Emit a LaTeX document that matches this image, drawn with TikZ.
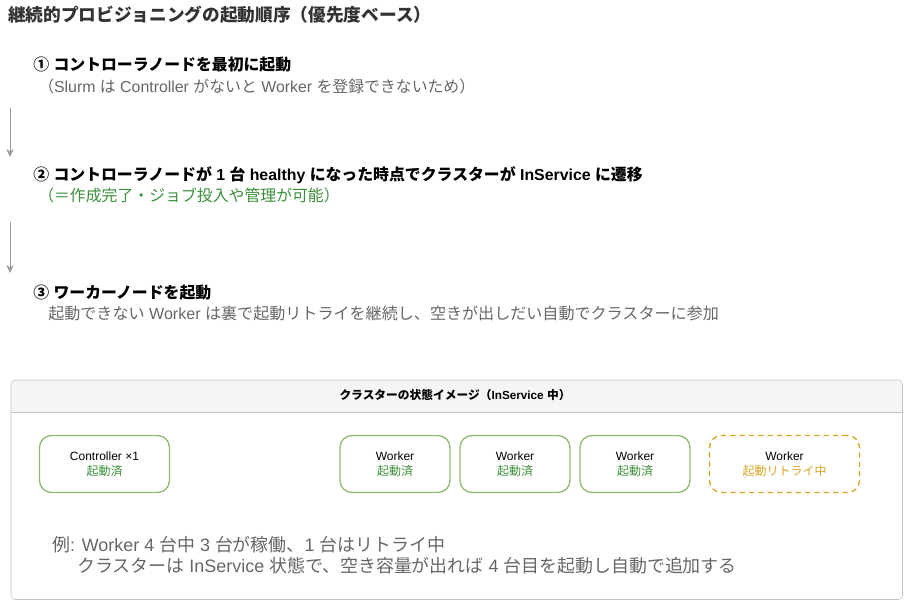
\documentclass[tikz,border=0pt]{standalone}
\usepackage{fontspec}
\setmainfont{Liberation Sans}
\newfontfamily\cjkfont{Noto Sans CJK JP}
\newfontfamily\latinfont{Liberation Sans}
\usetikzlibrary{arrows.meta}

% Japanese characters in Noto Sans CJK JP, the rest in Liberation Sans
\XeTeXinterchartokenstate=1
\newXeTeXintercharclass\jpclass
\newcount\jpcode
\newcommand\jprange[2]{\jpcode=#1
  \loop \XeTeXcharclass\jpcode=\jpclass \ifnum\jpcode<#2 \advance\jpcode by 1 \repeat}
\jprange{"2460}{"24FF}
\jprange{"3000}{"9FFF}
\jprange{"FF00}{"FFEF}
\XeTeXinterchartoks 0 \jpclass = {\cjkfont}
\XeTeXinterchartoks 4095 \jpclass = {\cjkfont}
\XeTeXinterchartoks \jpclass 0 = {\latinfont}
\XeTeXinterchartoks \jpclass 4095 = {\latinfont}

\definecolor{titlegray}{HTML}{333333}
\definecolor{subgray}{HTML}{666666}
\definecolor{okgreen}{HTML}{3A8F3A}
\definecolor{okborder}{HTML}{8CBB72}
\definecolor{retryorange}{HTML}{D9A520}
\definecolor{framegray}{HTML}{C4C4C4}
\definecolor{headfill}{HTML}{F5F5F5}

\tikzset{
  steptitle/.style={anchor=west, font=\fontsize{11.9}{14}\selectfont\bfseries, text=black, inner sep=0pt},
  stepnote/.style={anchor=west, font=\fontsize{11.9}{14}\selectfont, inner sep=0pt},
  flow/.style={draw=gray!80, -{Stealth[length=6pt,width=5.5pt]}, line width=0.6pt},
  nodebox/.style={draw=okborder, line width=1pt, rounded corners=9pt, minimum height=42.75pt,
    align=center, font=\fontsize{9}{11}\selectfont},
  retrybox/.style={nodebox, draw=retryorange, dashed, dash pattern=on 4pt off 3pt}
}

\begin{document}
\begin{tikzpicture}[x=0.75pt, y=-0.75pt]
  \useasboundingbox (0,0) rectangle (904,601);

  % title and steps
  \node[anchor=west, inner sep=0pt, text=titlegray, font=\fontsize{13.25}{15}\selectfont\bfseries] (title) at (8,15)
    {継続的プロビジョニングの起動順序（優先度ベース）};

  \node[steptitle] (s1) at (33,65) {① コントローラノードを最初に起動};
  \node[stepnote, text=subgray] (s1n) at (38,86) {（Slurm は Controller がないと Worker を登録できないため）};

  \node[steptitle] (s2) at (33,175) {② コントローラノードが 1 台 healthy になった時点でクラスターが InService に遷移};
  \node[stepnote, text=okgreen] (s2n) at (38,195) {（＝作成完了・ジョブ投入や管理が可能）};

  \node[steptitle] (s3) at (33,293) {③ ワーカーノードを起動};
  \node[stepnote, text=subgray, font=\fontsize{12.05}{14}\selectfont] (s3n) at (48,313) {起動できない Worker は裏で起動リトライを継続し、空きが出しだい自動でクラスターに参加};

  \coordinate (a1) at (10,108);
  \coordinate (b1) at (10,157);
  \coordinate (a2) at (10,222);
  \coordinate (b2) at (10,273);
  \draw[flow] (a1) -- (b1);
  \draw[flow] (a2) -- (b2);

  % cluster frame
  \begin{scope}
    \clip[rounded corners=3pt] (11,380) rectangle (902.5,599.5);
    \fill[headfill] (11,380) rectangle (902.5,412);
  \end{scope}
  \draw[framegray] (11,412) -- (902.5,412);
  \draw[framegray, rounded corners=3pt] (11,380) rectangle (902.5,599.5);
  \node[font=\fontsize{8.8}{10}\selectfont\bfseries] (head) at (455,395) {クラスターの状態イメージ（InService 中）};

  \node[nodebox, minimum width=97.5pt] (ctl) at (104.5,464) {Controller ×1\\\textcolor{okgreen}{起動済}};
  \node[nodebox, minimum width=82.5pt] (w1) at (395,464) {Worker\\\textcolor{okgreen}{起動済}};
  \node[nodebox, minimum width=82.5pt] (w2) at (515,464) {Worker\\\textcolor{okgreen}{起動済}};
  \node[nodebox, minimum width=82.5pt] (w3) at (635,464) {Worker\\\textcolor{okgreen}{起動済}};
  \node[retrybox, minimum width=112.5pt] (w4) at (784.5,464) {Worker\\\textcolor{retryorange}{起動リトライ中}};

  \node[anchor=west, inner sep=0pt, text=subgray, font=\fontsize{13.45}{15}\selectfont] (ex1) at (52,545)
    {例: Worker 4 台中 3 台が稼働、1 台はリトライ中};
  \node[anchor=west, inner sep=0pt, text=subgray, font=\fontsize{13.45}{15}\selectfont] (ex2) at (77,566)
    {クラスターは InService 状態で、空き容量が出れば 4 台目を起動し自動で追加する};
\end{tikzpicture}
\end{document}
